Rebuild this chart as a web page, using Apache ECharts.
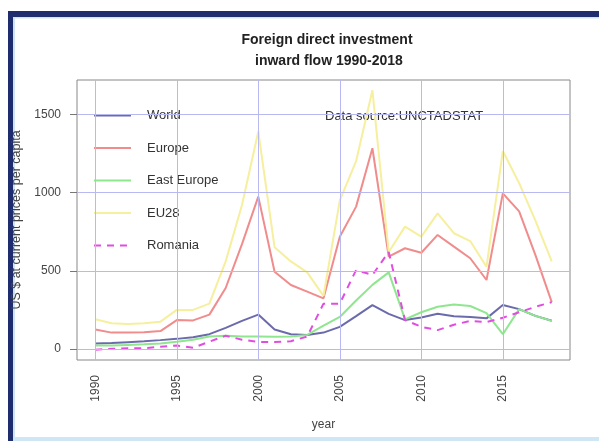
<!DOCTYPE html>
<html>
<head>
<meta charset="utf-8">
<script src="https://cdn.jsdelivr.net/npm/echarts@6/dist/echarts.min.js"></script>
<style>
  html, body { margin: 0; padding: 0; background: #fff; }
  #chart { width: 599px; height: 441px; }
</style>
</head>
<body>
<div id="chart"></div>
<script>
// FDI inward flow per capita, US $
const years = [1990, 1991, 1992, 1993, 1994, 1995, 1996, 1997, 1998, 1999,
               2000, 2001, 2002, 2003, 2004, 2005, 2006, 2007, 2008, 2009,
               2010, 2011, 2012, 2013, 2014, 2015, 2016, 2017, 2018]

const world      = [35, 38, 44, 50, 57, 65, 75, 95, 135, 180, 220, 125, 95, 90, 105, 142, 210, 281, 225, 185, 202, 225, 210, 205, 196, 281, 255, 212, 181]
const europe     = [125, 105, 105, 108, 115, 185, 183, 220, 390, 670, 974, 494, 409, 367, 324, 718, 910, 1283, 590, 644, 615, 729, 654, 580, 441, 995, 880, 600, 300]
const eastEurope = [22, 22, 26, 30, 36, 46, 60, 80, 85, 80, 80, 78, 80, 90, 150, 205, 310, 410, 490, 190, 235, 270, 285, 275, 230, 95, 255, 212, 180]
const eu28       = [190, 165, 160, 165, 175, 250, 250, 290, 560, 920, 1390, 650, 560, 490, 340, 950, 1200, 1653, 620, 782, 718, 867, 740, 690, 526, 1265, 1060, 820, 560]
const romania    = [-4, 2, 5, 5, 15, 22, 8, 47, 85, 60, 45, 45, 50, 80, 290, 290, 505, 473, 620, 185, 142, 121, 155, 180, 172, 200, 235, 270, 300]

const xTicks = [1990, 1995, 2000, 2005, 2010, 2015]
const yTicks = [0, 500, 1000, 1500]

const pairs = (vals) => years.map((y, i) => [y, vals[i]])

const chart = echarts.init(document.getElementById("chart"), null, { renderer: "canvas" })

const lineSeries = (name, vals, color, dashed) => ({
    name: name,
    type: "line",
    data: pairs(vals),
    symbol: "none",
    color: color,
    lineStyle: { color: color, width: 2, type: dashed ? [7, 6] : "solid" },
    silent: true,
    z: 3,
})

chart.setOption({
    animation: false,
    backgroundColor: "#fff",
    title: {
        text: "Foreign direct investment\n inward flow 1990-2018",
        left: 322,
        top: 25,
        textAlign: "center",
        textStyle: { fontFamily: "Liberation Sans", fontSize: 14, fontWeight: "bold", color: "#222", lineHeight: 21 },
    },
    grid: {
        left: 77, right: 29, top: 80, bottom: 81,
        show: true, borderColor: "#888", borderWidth: 1, backgroundColor: "transparent",
    },
    legend: {
        orient: "vertical",
        left: 93, top: 109, padding: 0,
        itemWidth: 37, itemHeight: 14, itemGap: 19.5,
        data: ["World", "Europe", "East Europe", "EU28", "Romania"],
        itemStyle: { opacity: 0, borderWidth: 0 },
        textStyle: { fontFamily: "Liberation Sans", fontSize: 13, color: "#333", padding: [0, 0, 0, 11] },
    },
    xAxis: {
        type: "value",
        min: 1988.88, max: 2019.12,
        name: "year", nameLocation: "middle", nameGap: 59,
        nameTextStyle: { fontFamily: "Liberation Sans", fontSize: 12, color: "#444" },
        axisLine: { show: false },
        axisTick: { show: true, customValues: xTicks, length: 7, lineStyle: { color: "#777" } },
        axisLabel: {
            customValues: xTicks, rotate: 90, margin: 15,
            fontFamily: "Liberation Sans", fontSize: 12, color: "#444",
            formatter: (v) => String(v),
        },
        splitLine: { show: false },
    },
    yAxis: {
        type: "value",
        min: -70, max: 1719,
        name: "US $ at current prices per capita", nameLocation: "middle", nameGap: 48,
        nameTextStyle: { fontFamily: "Liberation Sans", fontSize: 12.5, color: "#444" },
        axisLine: { show: false },
        axisTick: { show: true, customValues: yTicks, length: 7, lineStyle: { color: "#777" } },
        axisLabel: {
            customValues: yTicks, margin: 16,
            fontFamily: "Liberation Sans", fontSize: 12, color: "#444",
            formatter: (v) => String(v),
        },
        splitLine: { show: false },
    },
    graphic: [
        // outer frame of the slide
        { type: "rect", shape: { x: 8, y: 11, width: 600, height: 6 }, style: { fill: "#1f2d6e" }, silent: true },
        { type: "rect", shape: { x: 8, y: 11, width: 5, height: 440 }, style: { fill: "#1f2d6e" }, silent: true },
        { type: "rect", shape: { x: 13, y: 17, width: 600, height: 1.5 }, style: { fill: "#cfe3f3" }, silent: true },
        { type: "rect", shape: { x: 13, y: 17, width: 2, height: 430 }, style: { fill: "#cfe3f3" }, silent: true },
        { type: "rect", shape: { x: 13, y: 437, width: 600, height: 4 }, style: { fill: "#cfe6f5" }, silent: true },
        {
            type: "text", left: 325, top: 110,
            style: { text: "Data source:UNCTADSTAT", font: "13px 'Liberation Sans'", fill: "#333" },
            silent: true,
        },
    ],
    series: [
        {
            name: "grid",
            type: "line",
            data: [],
            silent: true,
            z: 1,
            markLine: {
                silent: true,
                symbol: "none",
                label: { show: false },
                lineStyle: { color: "#b9b9f2", width: 1, type: "solid" },
                data: xTicks.map((v) => ({ xAxis: v })).concat(yTicks.map((v) => ({ yAxis: v }))),
            },
        },
        lineSeries("World", world, "#6b6bab", false),
        lineSeries("Europe", europe, "#f08c8c", false),
        lineSeries("East Europe", eastEurope, "#8fe68f", false),
        lineSeries("EU28", eu28, "#f6ef9e", false),
        lineSeries("Romania", romania, "#e04ee0", true),
    ],
})
</script>
</body>
</html>
